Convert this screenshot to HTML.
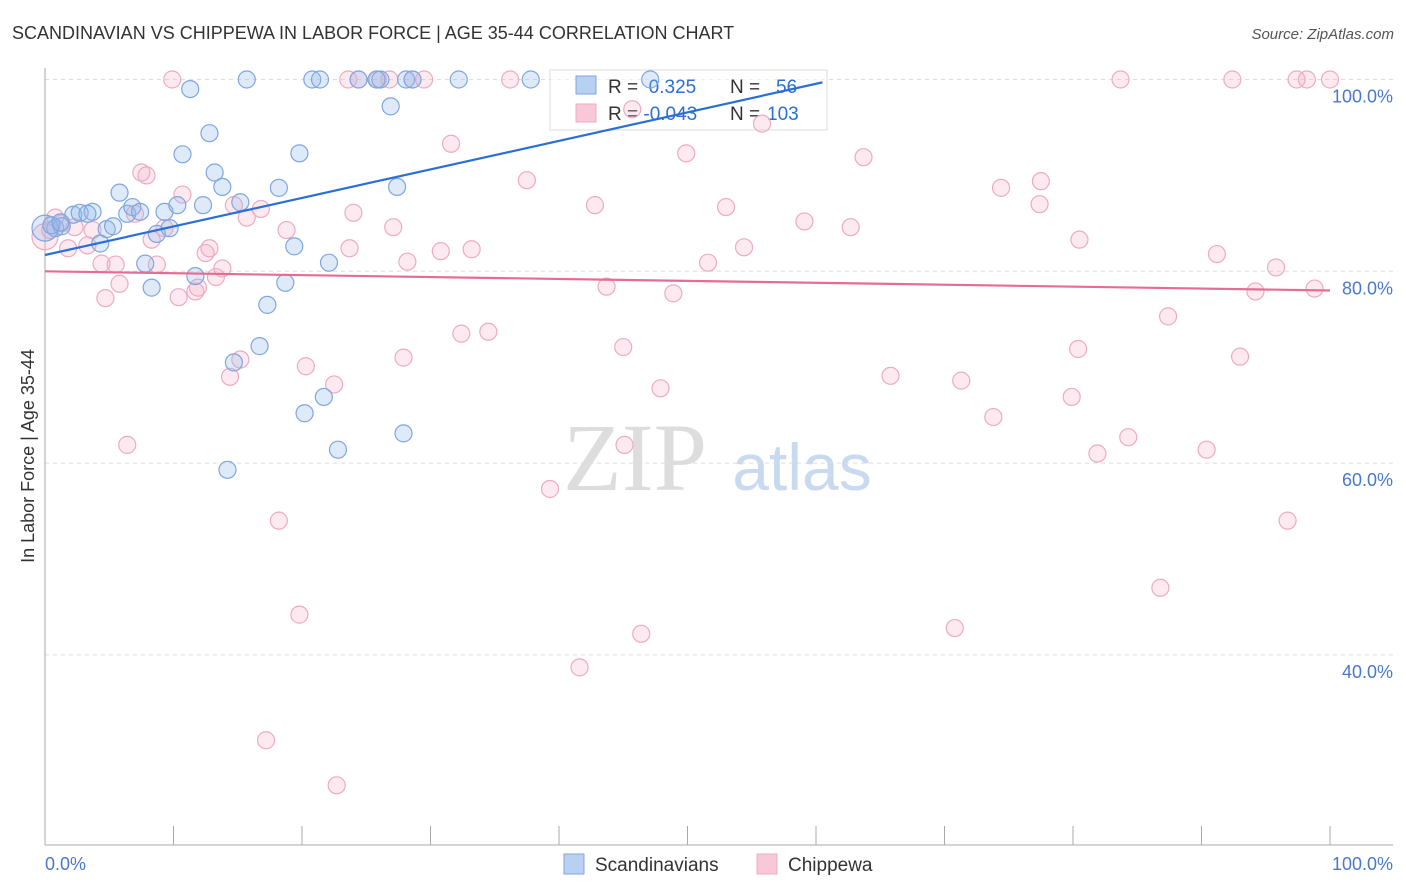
<!DOCTYPE html>
<html><head><meta charset="utf-8">
<style>
body{margin:0;background:#fff;font-family:"Liberation Sans",sans-serif;}
#wrap{position:relative;width:1406px;height:892px;overflow:hidden;}
</style></head>
<body><div id="wrap">
<svg id="svg" width="1406" height="892" xmlns="http://www.w3.org/2000/svg">
<text x="12" y="39" font-size="18" fill="#333">SCANDINAVIAN VS CHIPPEWA IN LABOR FORCE | AGE 35-44 CORRELATION CHART</text>
<text x="1394" y="39" font-size="15" fill="#555" font-style="italic" text-anchor="end">Source: ZipAtlas.com</text>
<text x="0" y="0" transform="translate(34,456) rotate(-90)" font-size="18" fill="#333" text-anchor="middle">In Labor Force | Age 35-44</text>
<text x="635" y="490" font-size="96" fill="#ddd" font-family="Liberation Serif,serif" text-anchor="middle">ZIP</text>
<text x="802" y="490" font-size="66" fill="#c9daf0" text-anchor="middle">atlas</text>
<g id="grid"></g>
<g>
<rect x="550" y="70" width="277" height="60" fill="rgba(255,255,255,0.6)" stroke="#ddd"/>
<rect x="576" y="76" width="20" height="18" fill="#b8d0f2" stroke="#7fa6de"/>
<rect x="576" y="104" width="20" height="18" fill="#f8c8d8" stroke="#eeaac2"/>
<text x="608" y="93" font-size="19" fill="#333">R = <tspan fill="#2b6fd6">&#160;0.325</tspan><tspan x="730">N = </tspan><tspan fill="#2b6fd6" x="776">56</tspan></text>
<text x="608" y="120" font-size="19" fill="#333">R = <tspan fill="#2b6fd6">-0.043</tspan><tspan x="730">N = </tspan><tspan fill="#2b6fd6" x="767">103</tspan></text>
</g>
<g id="marks"></g>
</svg>
</div>
<script>
const xTicks=[0,10,20,30,40,50,60,70,80,90,100];
const yTicks=[100,80,60,40];
const yTickLabels=["100.0%","80.0%","60.0%","40.0%"];
const blueX=[0.8,1.3,2.2,2.7,3.7,4.3,4.8,5.3,5.8,6.4,6.8,7.4,7.8,8.3,8.7,9.3,9.7,10.3,10.7,11.3,11.7,12.3,12.8,13.2,13.8,14.2,14.7,15.2,15.7,16.7,17.3,18.2,18.7,19.4,19.8,20.2,20.8,21.4,21.7,22.1,22.8,24.4,25.8,26.1,26.9,27.4,27.9,28.1,28.6,32.2,37.8,47.1,0,0.5,1.2,3.3];
const blueY=[84.5,84.7,85.9,86.1,86.2,82.9,84.4,84.7,88.2,86.0,86.7,86.2,80.8,78.3,83.9,86.2,84.5,86.9,92.2,99.0,79.5,86.9,94.4,90.3,88.8,59.3,70.5,87.2,100,72.2,76.5,88.7,78.8,82.6,92.3,65.2,100,100,66.9,80.9,61.4,100,100,100,97.2,88.8,63.1,100,100,100,100,100,84.5,84.8,85.1,86.0];
const pinkX=[0.8,1.3,1.8,2.3,3.3,3.7,4.4,4.7,5.5,5.8,6.4,7.0,7.5,7.9,8.3,8.7,9.3,9.9,10.4,10.7,11.7,11.9,12.5,12.8,13.3,13.8,14.4,14.7,15.2,15.7,16.8,17.2,18.2,18.8,19.8,20.3,22.5,22.7,23.6,23.7,24.0,24.4,25.9,26.8,27.1,27.9,28.2,28.6,29.5,30.8,31.6,32.4,33.2,34.5,36.2,37.5,39.3,41.6,42.8,43.7,45.0,45.1,45.7,46.4,47.9,48.9,49.9,51.6,53.0,54.4,55.8,59.1,62.7,63.7,65.8,70.8,71.3,73.8,74.4,77.4,77.5,79.9,80.4,80.5,81.9,83.7,84.3,86.8,87.4,90.4,91.2,92.4,93.0,94.2,95.8,96.7,97.4,98.2,98.8,100,0,0.4];
const pinkY=[85.6,85.0,82.4,84.6,82.7,84.3,80.8,77.2,80.7,78.7,61.9,86.0,90.3,90.0,83.3,80.7,84.5,100,77.3,88.0,77.9,78.3,81.9,82.4,79.4,80.3,69.0,86.9,70.8,85.6,86.5,31.1,54.0,84.3,44.2,70.1,68.2,26.4,100,82.4,86.1,100,100,100,84.6,71.0,81.0,100,100,82.1,93.3,73.5,82.3,73.7,100,89.5,57.3,38.7,86.9,78.4,72.1,61.9,96.9,42.2,67.8,77.7,92.3,80.9,86.7,82.5,95.4,85.2,84.6,91.9,69.1,42.8,68.6,64.8,88.7,87.0,89.4,66.9,71.9,83.3,61.0,100,62.7,47.0,75.3,61.4,81.8,100,71.1,77.9,80.4,54.0,100,100,78.2,100,83.6,84.3];
const blueTrend=[0,81.7,60.5,99.7];
const pinkTrend=[0,80.0,100,78.0];
const NS="http://www.w3.org/2000/svg";
const X=v=>45+v*12.85;
const Y=v=>79.5+(100-v)*9.59;
function mk(t,a,p){const e=document.createElementNS(NS,t);for(const k in a)e.setAttribute(k,a[k]);p.appendChild(e);return e;}
const g=document.getElementById('grid'),m=document.getElementById('marks');
yTicks.forEach((v,i)=>{
 const l=mk('line',{x1:45,x2:1393,y1:Y(v),y2:Y(v),stroke:'#ddd','stroke-dasharray':'4,4'},g);
 
 
 const t=mk('text',{x:1393,y:Y(v)+23,'font-size':18,fill:'#4a78cc','text-anchor':'end'},g);
 t.textContent=yTickLabels[i];
 
 
});
let ax=mk('line',{x1:45,x2:45,y1:68,y2:845,stroke:'#aaa'},g);


ax=mk('line',{x1:45,x2:1393,y1:845,y2:845,stroke:'#aaa'},g);


xTicks.forEach(v=>{
 const l=mk('line',{x1:X(v),x2:X(v),y1:826,y2:845,stroke:'#aaa'},g);
 
 
});
[[0,"0.0%","start",45],[100,"100.0%","end",1393]].forEach(d=>{
 const t=mk('text',{x:d[3],y:870,'font-size':18,fill:'#4a78cc','text-anchor':d[2]},g);
 t.textContent=d[1];
 
 
});
function dots(xs,ys,fill,stroke,name){
 xs.forEach((x,i)=>{
  const r=(x===0)?13:8.5;
  const c=mk('circle',{cx:X(x),cy:Y(ys[i]),r:r,fill:fill,stroke:stroke,'stroke-width':1.2},m);
  
  
 });
}
dots(pinkX,pinkY,'rgba(244,170,195,0.25)','#eeaac2','chippewa-point');
dots(blueX,blueY,'rgba(150,185,235,0.3)','#7fa6de','scandinavian-point');
let tl=mk('line',{x1:X(blueTrend[0]),y1:Y(blueTrend[1]),x2:X(blueTrend[2]),y2:Y(blueTrend[3]),stroke:'#2b6fd6','stroke-width':2.2},m);


tl=mk('line',{x1:X(pinkTrend[0]),y1:Y(pinkTrend[1]),x2:X(pinkTrend[2]),y2:Y(pinkTrend[3]),stroke:'#e66b95','stroke-width':2.2},m);


</script>
<svg style="position:absolute;left:0;top:0" width="1406" height="892">
<g>
<rect x="564" y="854" width="20" height="20" fill="#b8d0f2" stroke="#7fa6de"/>
<text x="595" y="871" font-size="19" fill="#333">Scandinavians</text></g>
<g>
<rect x="757" y="854" width="20" height="20" fill="#f8c8d8" stroke="#eeaac2"/>
<text x="788" y="871" font-size="19" fill="#333">Chippewa</text></g>
</svg>
</body></html>
